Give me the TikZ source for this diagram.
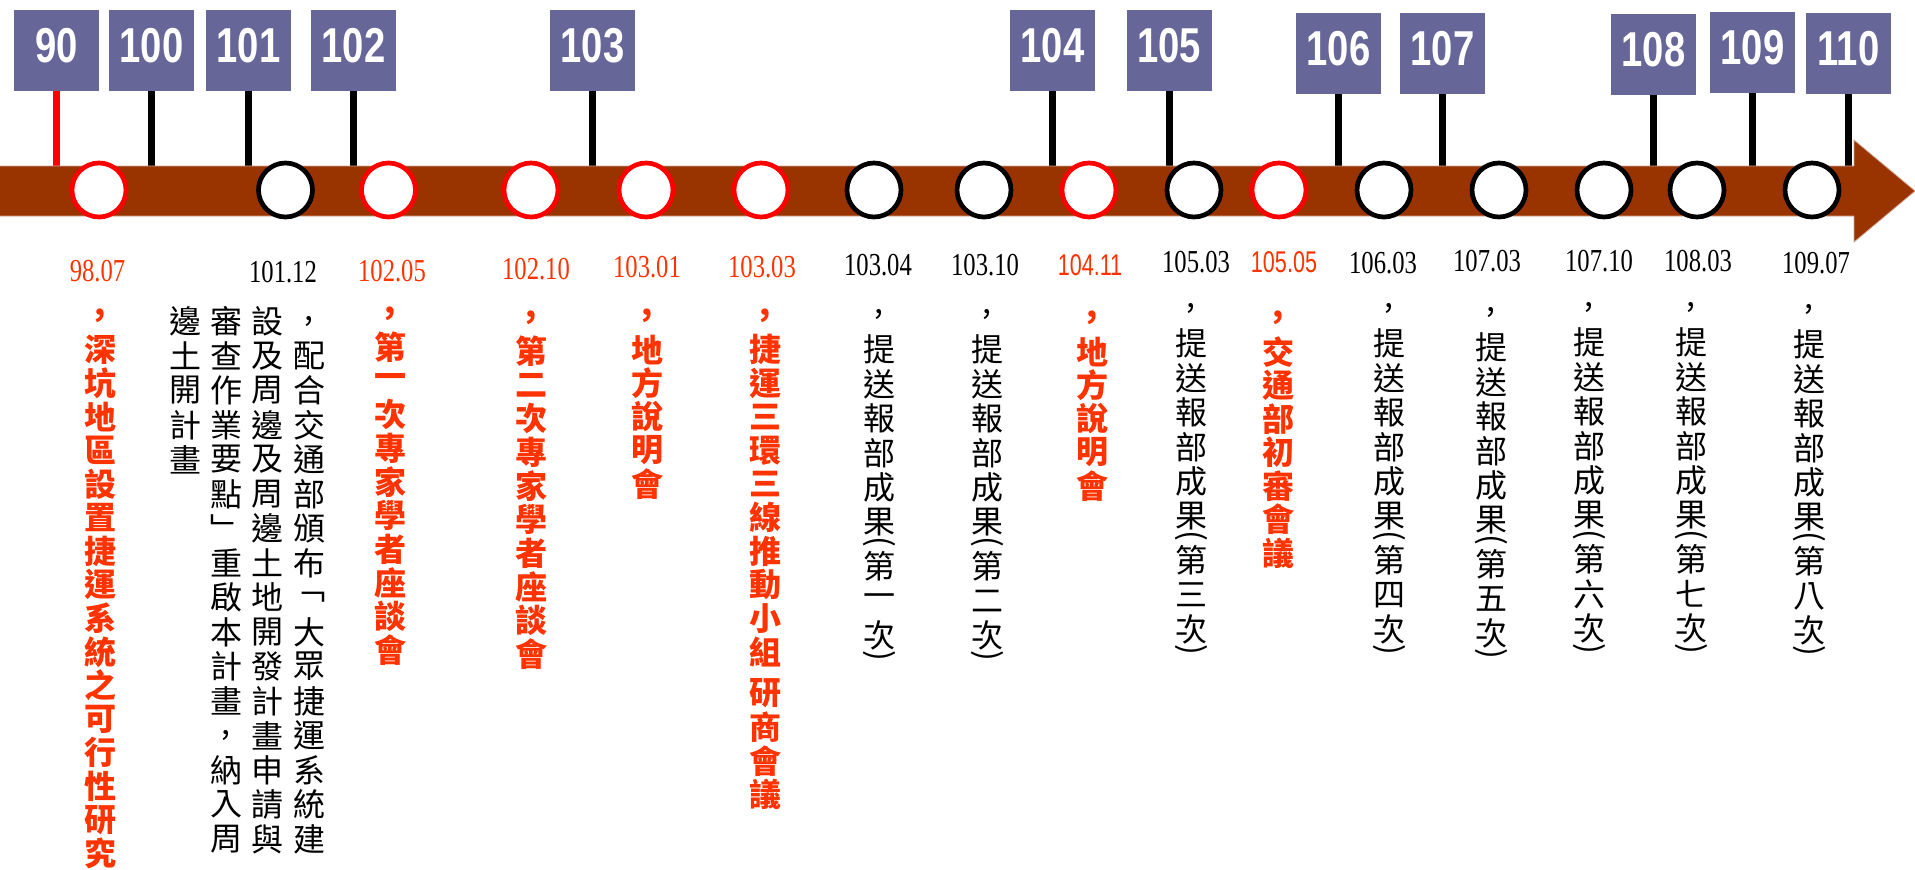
\documentclass[tikz,border=0pt]{standalone}
\usepackage{graphicx}
\usepackage{fontspec}
\setmainfont{Liberation Serif}
\newfontfamily\cjk{Noto Sans CJK TC}
\newfontfamily\yearfont[FakeStretch=0.78]{Liberation Sans}
\newfontfamily\datefont[FakeStretch=0.77]{Liberation Serif}
\newfontfamily\datesans[FakeStretch=0.72]{Liberation Sans}
\usetikzlibrary{shapes,positioning,calc}

\definecolor{bandbrown}{RGB}{153,51,0}
\definecolor{yearblue}{RGB}{102,102,153}
\definecolor{evtred}{RGB}{255,51,0}

%% vertical text: one character under the other
\newdimen\vpitch
\newdimen\vstep
\vpitch=34.5pt
\def\vcolend{\vcolend}
\def\vlp{\rotatebox[origin=c]{-90}{(}}
\def\vrp{\rotatebox[origin=c]{-90}{)}}
\def\vgap{\relax}
\def\vcolitem#1{%
  \ifx\vlp#1\vstep=10pt\relax\else\ifx\vrp#1\vstep=10pt\relax\else
  \ifx\vgap#1\vstep=8pt\relax\else\vstep=\vpitch\relax\fi\fi\fi
  \vbox to\vstep{\vss\hbox to 36pt{\hss#1\hss}\vss}}
\def\vcolloop#1{\ifx\vcolend#1\else\vcolitem{#1}\expandafter\vcolloop\fi}
\newcommand\vcol[1]{\vbox{\offinterlineskip\vcolloop#1\vcolend}}

\begin{document}
\begin{tikzpicture}
[x=1pt,y=-1pt,
%
yearbox/.style={shape=rectangle,fill=yearblue,text=white,inner sep=0pt,
  minimum width=85pt,minimum height=81pt,text height=35pt,text depth=12pt,
  font=\yearfont\bfseries\fontsize{49}{49}\selectfont},
stem/.style={draw=black,line width=7pt},
evt/.style={shape=circle,draw=black,fill=white,line width=4.7pt,inner sep=0pt,
  minimum size=54pt},
key/.style={evt,draw=red},
%
dblack/.style={inner sep=0pt,font=\datefont\fontsize{32}{32}\selectfont},
dred/.style={dblack,text=evtred},
dsans/.style={inner sep=0pt,text=evtred,font=\datesans\fontsize{30}{30}\selectfont},
vtext/.style={anchor=north,inner sep=0pt,font=\cjk\fontsize{32}{32}\selectfont,
  execute at begin node={\global\vpitch=34.5pt\relax}},
vred/.style={anchor=north,inner sep=0pt,text=evtred,
  font=\cjk\bfseries\fontsize{32}{32}\selectfont,
  execute at begin node={\global\vpitch=33.6pt\relax}}]
%
\useasboundingbox (0,0) rectangle (1915,870);
\coordinate (bandtop) at (0,170);
%
% year boxes
\foreach \yr/\x/\y in {90/56.5/50.5,100/151.5/50.5,101/248.5/50.5,102/353.5/50.5,
  103/592.5/50.5,104/1052.5/50.5,105/1169/50.5,106/1338.5/53.5,
  107/1442.5/53.5,108/1653.5/54.5,109/1752.5/52.5,110/1848.5/53.5}
   \node (y\yr) [yearbox] at (\x,\y) {\yr};
%%
% stems
\draw[stem,draw=red] (y90.south) -- (y90.south |- bandtop);
\foreach \yr in {100,...,110}
   \draw[stem] (y\yr.south) -- (y\yr.south |- bandtop);
%%
% time band
\filldraw[fill=bandbrown,draw=bandbrown!45!white,line width=.8pt]
   (-2,166) -- (1854,166) -- (1854,140) -- (1915,191)
   -- (1854,242) -- (1854,216) -- (-2,216) -- cycle;
%%
% events on the band
\foreach \n/\x/\s in {9807/99/key,10112/285.5/evt,10205/388.5/key,
  10210/531/key,10301/646/key,10303/761/key,10304/874/evt,10310/984/evt,
  10411/1089/key,10503/1194/evt,10505/1279/key,10603/1384/evt,
  10703/1499/evt,10710/1604/evt,10803/1697/evt,10907/1812/evt}
   \node (e\n) [\s] at (\x,190) {};
%%
% dates
\node (d9807) [dred] at (97.5,271) {98.07};
\node (d10112) [dblack] at (283,272) {101.12};
\node (d10205) [dred] at (392,271) {102.05};
\node (d10210) [dred] at (536,269) {102.10};
\node (d10301) [dred] at (647,267) {103.01};
\node (d10303) [dred] at (762,267) {103.03};
\node (d10304) [dblack] at (878,265) {103.04};
\node (d10310) [dblack] at (985,265) {103.10};
\node (d10411) [dsans] at (1090,265) {104.11};
\node (d10503) [dblack] at (1196,262) {105.03};
\node (d10505) [dsans] at (1284,262) {105.05};
\node (d10603) [dblack] at (1383,263) {106.03};
\node (d10703) [dblack] at (1487,261) {107.03};
\node (d10710) [dblack] at (1599,261) {107.10};
\node (d10803) [dblack] at (1698,261) {108.03};
\node (d10907) [dblack] at (1816,263) {109.07};
%%
% descriptions
\node (t9807) [vred] at (100,299) {\vcol{,深坑地區設置捷運系統之可行性研究}};
\node (t10112a) [vtext] at (309,304) {\vcol{,配合交通部頒布﹁大眾捷運系統建}};
\node (t10112b) [vtext] at (267.5,304) {\vcol{設及周邊及周邊土地開發計畫申請與}};
\node (t10112c) [vtext] at (226,304) {\vcol{審查作業要點﹂重啟本計畫,納入周}};
\node (t10112d) [vtext] at (185,304) {\vcol{邊土開計畫}};
\node (t10205) [vred] at (390,297) {\vcol{,第一次專家學者座談會}};
\node (t10210) [vred] at (531,301) {\vcol{,第二次專家學者座談會}};
\node (t10301) [vred] at (647,299) {\vcol{,地方說明會}};
\node (t10303) [vred] at (765,299) {\vcol{,捷運三環三線推動小組\vgap 研商會議}};
\node (t10411) [vred] at (1092,301) {\vcol{,地方說明會}};
\node (t10505) [vred] at (1278,301) {\vcol{,交通部初審會議}};
\foreach \n/\x/\y/\k in {10304/879/297.5/一,10310/987/297.5/二,
  10503/1191/291.5/三,10603/1389/291.5/四,10703/1491/295.5/五,
  10710/1589/290.5/六,10803/1691/290.5/七,10907/1809/292.5/八}
   \node (t\n) [vtext] at (\x,\y) {\vcol{,提送報部成果\vlp 第\k 次\vrp}};
\end{tikzpicture}
\end{document}
